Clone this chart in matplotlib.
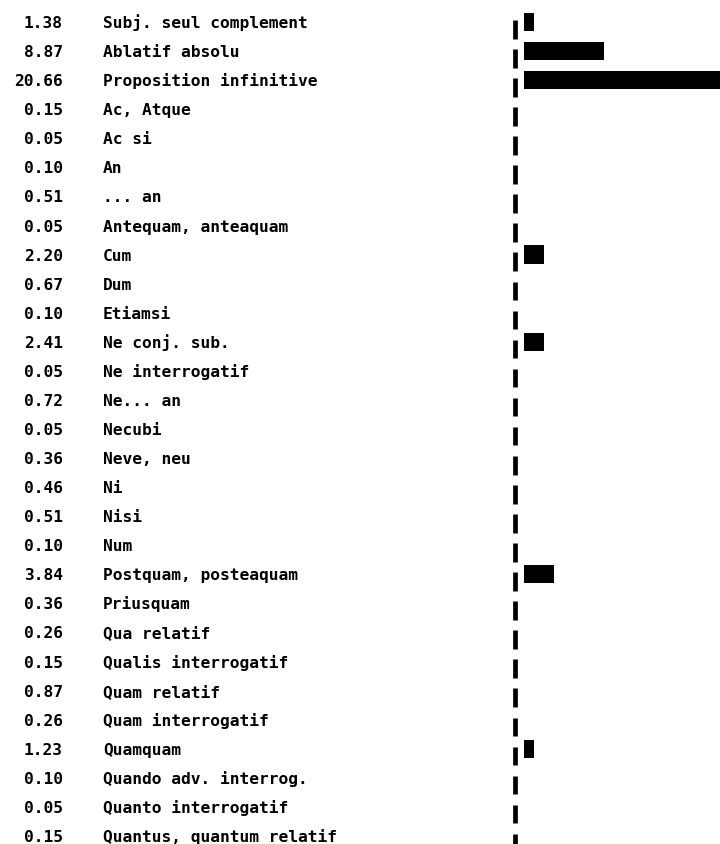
import numpy as np
import matplotlib.pyplot as plt
from matplotlib.transforms import blended_transform_factory

labels = ['Subj. seul complement', 'Ablatif absolu', 'Proposition infinitive',
          'Ac, Atque', 'Ac si', 'An', '... an', 'Antequam, anteaquam', 'Cum',
          'Dum', 'Etiamsi', 'Ne conj. sub.', 'Ne interrogatif', 'Ne... an',
          'Necubi', 'Neve, neu', 'Ni', 'Nisi', 'Num', 'Postquam, posteaquam',
          'Priusquam', 'Qua relatif', 'Qualis interrogatif', 'Quam relatif',
          'Quam interrogatif', 'Quamquam', 'Quando adv. interrog.',
          'Quanto interrogatif', 'Quantus, quantum relatif']
values = [1.38, 8.87, 20.66, 0.15, 0.05, 0.10, 0.51, 0.05, 2.20, 0.67, 0.10,
          2.41, 0.05, 0.72, 0.05, 0.36, 0.46, 0.51, 0.10, 3.84, 0.36, 0.26,
          0.15, 0.87, 0.26, 1.23, 0.10, 0.05, 0.15]

rows = np.arange(len(labels))
# the printer draws one block per whole unit
blocks = np.floor(values)

fig = plt.figure(figsize=(7.2, 8.44), dpi=100)
ax = fig.add_axes([510 / 720, 0, 210 / 720, 1])
ax.set_xlim(-0.5, 20.5)
ax.set_ylim(28.33, -0.705)
ax.axis('off')

ax.barh(rows + 0.05, blocks, left=0.9, height=0.62, color='black')
ax.vlines(np.zeros(len(rows)), rows - 0.02, rows + 0.62, color='black', lw=3.4)

font = dict(family='DejaVu Sans Mono', weight='bold', size=11.7)
tr = blended_transform_factory(fig.transFigure, ax.transData)
for i, (lab, v) in enumerate(zip(labels, values)):
    ax.text(63 / 720, i + 0.26, '%.2f' % v, ha='right', va='baseline',
            transform=tr, clip_on=False, **font)
    ax.text(103 / 720, i + 0.26, lab, ha='left', va='baseline',
            transform=tr, clip_on=False, **font)

fig.savefig('out.png', dpi=100)
